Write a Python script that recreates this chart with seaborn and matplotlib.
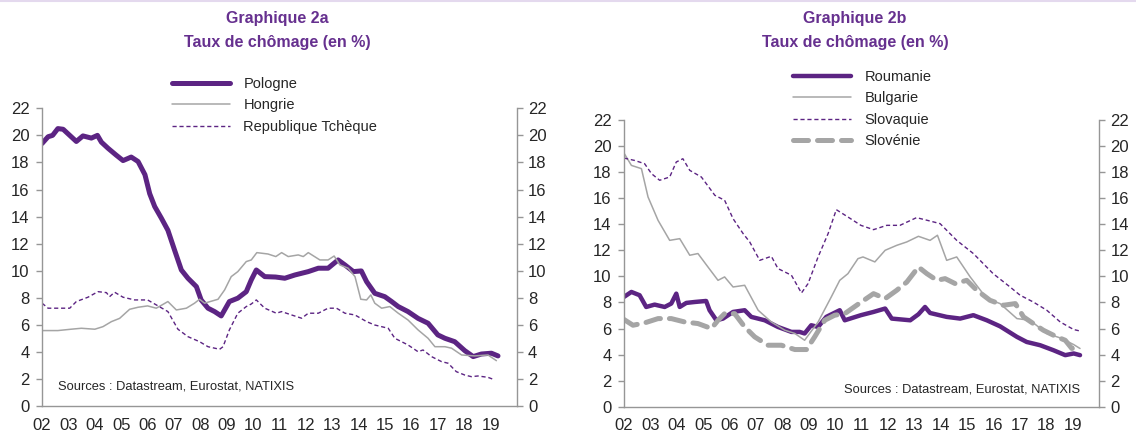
import matplotlib
matplotlib.use("Agg")
import matplotlib.pyplot as plt
import seaborn as sns
from matplotlib.lines import Line2D

# ---- data (decimal years, unemployment rate in %) ----
pol_x = [2002.0, 2002.23, 2002.4, 2002.6, 2002.8, 2003.05, 2003.3, 2003.55, 2003.87, 2004.1,
         2004.25, 2004.5, 2004.8, 2005.07, 2005.38, 2005.64, 2005.9, 2006.08, 2006.27, 2006.52,
         2006.77, 2007.02, 2007.28, 2007.53, 2007.85, 2008.03, 2008.29, 2008.54, 2008.79, 2009.1,
         2009.42, 2009.74, 2009.93, 2010.12, 2010.44, 2010.85, 2011.2, 2011.58, 2012.09, 2012.47,
         2012.84, 2013.22, 2013.48, 2013.8, 2014.1, 2014.3, 2014.61, 2014.99, 2015.25, 2015.5,
         2015.87, 2016.25, 2016.63, 2017.0, 2017.27, 2017.64, 2018.02, 2018.34, 2018.65, 2019.03,
         2019.28]
pol_y = [19.4, 19.9, 20.0, 20.5, 20.45, 20.0, 19.55, 19.96, 19.8, 20.0,
         19.5, 19.05, 18.56, 18.14, 18.4, 18.07, 17.1, 15.7, 14.75, 13.9,
         13.0, 11.55, 10.07, 9.46, 8.84, 7.86, 7.25, 7.0, 6.68, 7.74,
         7.99, 8.47, 9.34, 10.07, 9.58, 9.55, 9.46, 9.7, 9.95, 10.2,
         10.2, 10.81, 10.44, 9.95, 10.0, 9.21, 8.35, 8.1, 7.74, 7.37,
         7.0, 6.5, 6.14, 5.28, 5.03, 4.78, 4.12, 3.68, 3.87, 3.93,
         3.73]

hun_x = [2002.0, 2002.6, 2003.1, 2003.49, 2004.0, 2004.31, 2004.63, 2004.94, 2005.32, 2005.64,
         2006.0, 2006.33, 2006.77, 2007.09, 2007.47, 2007.78, 2007.97, 2008.16, 2008.67, 2008.92,
         2009.17, 2009.42, 2009.74, 2009.93, 2010.14, 2010.56, 2010.86, 2011.08, 2011.33, 2011.71,
         2011.9, 2012.09, 2012.53, 2012.84, 2013.07, 2013.29, 2013.6, 2013.86, 2014.08, 2014.3,
         2014.46, 2014.61, 2014.87, 2015.18, 2015.5, 2015.87, 2016.25, 2016.63, 2016.89, 2017.27,
         2017.52, 2017.9, 2018.4, 2018.9, 2019.22]
hun_y = [5.6, 5.6, 5.7, 5.77, 5.7, 5.89, 6.26, 6.5, 7.17, 7.32,
         7.42, 7.25, 7.74, 7.12, 7.25, 7.62, 7.91, 7.62, 7.91, 8.6,
         9.58, 9.95, 10.69, 10.81, 11.35, 11.25, 11.06, 11.35, 11.06, 11.18,
         11.06, 11.35, 10.81, 10.81, 11.1, 10.44, 10.2, 9.58, 7.91, 7.86,
         8.23, 7.62, 7.25, 7.37, 6.88, 6.38, 5.65, 5.03, 4.41, 4.41,
         4.3, 3.8, 3.73, 3.8, 3.38]

cze_x = [2002.0, 2002.23, 2002.73, 2003.05, 2003.3, 2003.74, 2004.12, 2004.44, 2004.56, 2004.75,
         2005.07, 2005.51, 2006.0, 2006.27, 2006.77, 2007.15, 2007.53, 2007.97, 2008.29, 2008.73,
         2008.86, 2009.1, 2009.42, 2009.74, 2009.93, 2010.12, 2010.44, 2010.88, 2011.08, 2011.46,
         2011.84, 2012.09, 2012.47, 2012.84, 2013.16, 2013.48, 2013.86, 2014.3, 2014.61, 2015.12,
         2015.37, 2015.87, 2016.25, 2016.44, 2016.76, 2017.14, 2017.39, 2017.7, 2018.02, 2018.27,
         2018.52, 2018.9, 2019.16]
cze_y = [7.62, 7.25, 7.25, 7.25, 7.74, 8.06, 8.47, 8.4, 8.1, 8.43,
         8.06, 7.86, 7.86, 7.56, 7.0, 5.7, 5.15, 4.78, 4.41, 4.22,
         4.41, 5.65, 6.88, 7.37, 7.56, 7.86, 7.25, 6.88, 7.0, 6.75,
         6.51, 6.88, 6.88, 7.25, 7.25, 6.88, 6.75, 6.26, 6.01, 5.77,
         5.03, 4.54, 4.04, 4.17, 3.68, 3.31, 3.19, 2.57, 2.32, 2.2,
         2.25, 2.15, 1.96]

rou_x = [2002.0, 2002.28, 2002.59, 2002.84, 2003.16, 2003.54, 2003.79, 2003.98, 2004.11, 2004.36,
         2004.67, 2005.11, 2005.24, 2005.5, 2005.75, 2006.13, 2006.57, 2006.82, 2007.33, 2007.83,
         2008.34, 2008.65, 2008.84, 2009.09, 2009.35, 2009.66, 2010.17, 2010.36, 2010.97, 2011.45,
         2011.89, 2012.14, 2012.84, 2013.15, 2013.4, 2013.59, 2014.22, 2014.73, 2015.23, 2015.74,
         2016.24, 2016.88, 2017.25, 2017.76, 2018.26, 2018.71, 2019.03, 2019.27]
rou_y = [8.42, 8.8, 8.55, 7.65, 7.83, 7.65, 7.91, 8.67, 7.65, 7.96,
         8.03, 8.11, 7.4, 6.63, 6.76, 7.27, 7.4, 6.89, 6.63, 6.12,
         5.74, 5.74, 5.62, 6.25, 6.12, 6.89, 7.4, 6.63, 7.02, 7.27,
         7.53, 6.76, 6.63, 7.09, 7.65, 7.19, 6.89, 6.76, 7.02, 6.63,
         6.17, 5.36, 4.97, 4.72, 4.34, 3.96, 4.09, 3.96]

bul_x = [2002.0, 2002.28, 2002.66, 2002.91, 2003.29, 2003.73, 2004.11, 2004.49, 2004.8, 2005.18,
         2005.56, 2005.81, 2006.13, 2006.57, 2007.08, 2007.58, 2008.09, 2008.47, 2008.84, 2009.35,
         2009.85, 2010.17, 2010.48, 2010.86, 2011.05, 2011.5, 2011.89, 2012.33, 2012.71, 2013.15,
         2013.59, 2013.87, 2014.22, 2014.6, 2015.11, 2015.74, 2016.24, 2016.88, 2017.38, 2018.01,
         2018.52, 2019.03, 2019.27]
bul_y = [19.43, 18.49, 18.24, 16.07, 14.28, 12.75, 12.88, 11.61, 11.74, 10.71,
         9.69, 9.95, 9.18, 9.31, 7.4, 6.5, 5.87, 5.62, 5.1, 6.5,
         8.42, 9.69, 10.2, 11.35, 11.48, 11.1, 11.99, 12.37, 12.63, 13.06,
         12.75, 13.14, 11.22, 11.48, 9.95, 8.29, 7.91, 6.76, 6.63, 5.62,
         5.28, 4.77, 4.47]

svk_x = [2002.0, 2002.4, 2002.78, 2003.04, 2003.35, 2003.73, 2003.98, 2004.23, 2004.49, 2004.93,
         2005.44, 2005.81, 2006.13, 2006.51, 2006.76, 2007.14, 2007.58, 2007.83, 2008.34, 2008.72,
         2008.97, 2009.35, 2009.73, 2010.04, 2010.48, 2010.97, 2011.45, 2011.95, 2012.45, 2013.08,
         2013.59, 2013.97, 2014.6, 2015.23, 2015.98, 2016.62, 2017.0, 2017.5, 2018.01, 2018.52,
         2019.03, 2019.27]
svk_y = [19.05, 18.87, 18.62, 17.86, 17.35, 17.6, 18.75, 19.0, 18.11, 17.6,
         16.2, 15.82, 14.41, 13.27, 12.63, 11.22, 11.53, 10.59, 10.08, 8.72,
         9.44, 11.48, 13.27, 15.1, 14.54, 13.9, 13.57, 13.9, 13.9, 14.49,
         14.23, 14.03, 12.75, 11.74, 10.2, 9.18, 8.55, 8.03, 7.4, 6.5,
         5.92, 5.81]

svn_x = [2002.0, 2002.34, 2002.78, 2003.29, 2003.79, 2004.3, 2004.8, 2005.31, 2005.56, 2005.81,
         2006.19, 2006.57, 2006.95, 2007.45, 2007.96, 2008.47, 2008.91, 2009.22, 2009.6, 2009.98,
         2010.36, 2010.9, 2011.45, 2011.89, 2012.33, 2012.71, 2013.15, 2013.47, 2013.85, 2014.16,
         2014.54, 2014.98, 2015.36, 2015.86, 2016.37, 2016.82, 2017.13, 2017.5, 2017.88, 2018.39,
         2018.71, 2018.96, 2019.2]
svn_y = [6.69, 6.25, 6.43, 6.76, 6.76, 6.5, 6.38, 6.0, 6.63, 7.14,
         7.14, 6.12, 5.36, 4.72, 4.72, 4.39, 4.39, 5.36, 6.63, 7.02,
         7.14, 7.91, 8.67, 8.29, 8.93, 9.56, 10.71, 10.2, 9.69, 9.82,
         9.44, 9.69, 8.93, 8.16, 7.78, 7.91, 6.89, 6.38, 5.87, 5.36,
         5.1, 4.47, 4.59]

years = list(range(2002, 2020))
year_labels = [f"{y % 100:02d}" for y in years]
y_ticks = list(range(0, 23, 2))

PURPLE = "#5C2483"
TITLE_PURPLE = "#66308F"
GREY = "#A5A5A5"
AXIS_GREY = "#969696"


def style_axes(ax):
    """Excel-like axes: grey left/bottom spines, twin axis on the right."""
    ax.set_xlim(2002, 2020)
    ax.set_ylim(0, 22)
    ax.set_xticks(years)
    ax.set_xticklabels(year_labels, fontsize=12)
    ax.set_yticks(y_ticks)
    ax.tick_params(axis="y", labelsize=12, length=4, width=1, color=AXIS_GREY, pad=5)
    ax.tick_params(axis="x", length=4, width=1, color=AXIS_GREY, pad=4)
    for side in ["top", "right"]:
        ax.spines[side].set_visible(False)
    for side in ["left", "bottom"]:
        ax.spines[side].set_color(AXIS_GREY)
        ax.spines[side].set_linewidth(1)
    ax.set_xlabel("")
    ax.set_ylabel("")
    ax.grid(False)

    ax2 = ax.twinx()
    ax2.set_ylim(0, 22)
    ax2.set_yticks(y_ticks)
    ax2.tick_params(axis="y", labelsize=12, length=4, width=1, color=AXIS_GREY, pad=4)
    for side in ["top", "left", "bottom"]:
        ax2.spines[side].set_visible(False)
    ax2.spines["right"].set_color(AXIS_GREY)
    ax2.spines["right"].set_linewidth(1)


sns.set_theme(style="white")
plt.rcParams["font.family"] = ["Liberation Sans", "DejaVu Sans"]

fig = plt.figure(figsize=(11.36, 4.36), dpi=100)
ax_a = fig.add_axes([0.0370, 0.0677, 0.4181, 0.684])
ax_b = fig.add_axes([0.5493, 0.0668, 0.4184, 0.659])

# ---- Graphique 2a ----
sns.lineplot(x=pol_x, y=pol_y, ax=ax_a, color=PURPLE, linewidth=3.6,
             solid_capstyle="round", label="Pologne", sort=False, estimator=None)
sns.lineplot(x=hun_x, y=hun_y, ax=ax_a, color=GREY, linewidth=1.1,
             label="Hongrie", sort=False, estimator=None)
sns.lineplot(x=cze_x, y=cze_y, ax=ax_a, color=PURPLE, linewidth=1.0,
             linestyle=(0, (3, 2)), label="Republique Tchèque", sort=False, estimator=None)
ax_a.legend(loc="upper left", bbox_to_anchor=(0.1514, 0.823), bbox_transform=fig.transFigure,
            frameon=False, fontsize=10.5, handlelength=4.0, handletextpad=0.9,
            labelspacing=0.5, borderpad=0, borderaxespad=0)
style_axes(ax_a)
ax_a.text(58 / 1136, 1 - 386 / 436, "Sources : Datastream, Eurostat, NATIXIS",
          transform=fig.transFigure, fontsize=9.3, va="center", ha="left")

# ---- Graphique 2b ----
sns.lineplot(x=rou_x, y=rou_y, ax=ax_b, color=PURPLE, linewidth=3.2,
             solid_capstyle="round", label="Roumanie", sort=False, estimator=None)
sns.lineplot(x=bul_x, y=bul_y, ax=ax_b, color=GREY, linewidth=1.1,
             label="Bulgarie", sort=False, estimator=None)
sns.lineplot(x=svk_x, y=svk_y, ax=ax_b, color=PURPLE, linewidth=1.0,
             linestyle=(0, (3, 2)), label="Slovaquie", sort=False, estimator=None)
sns.lineplot(x=svn_x, y=svn_y, ax=ax_b, color=GREY, linewidth=3.6,
             linestyle=(0, (3.0, 1.8)), dash_capstyle="round",
             label="Slovénie", sort=False, estimator=None)
ax_b.legend(loc="upper left", bbox_to_anchor=(0.698, 0.839), bbox_transform=fig.transFigure,
            frameon=False, fontsize=10.5, handlelength=4.0, handletextpad=0.9,
            labelspacing=0.5, borderpad=0, borderaxespad=0)
style_axes(ax_b)
ax_b.text(1080 / 1136, 1 - 389 / 436, "Sources : Datastream, Eurostat, NATIXIS",
          transform=fig.transFigure, fontsize=9.3, va="center", ha="right")

# ---- titles ----
for cx, tag in [(277, "2a"), (855, "2b")]:
    fig.text(cx / 1136, 1 - 19 / 436, f"Graphique {tag}", ha="center", va="center",
             fontsize=11.5, weight="bold", color=TITLE_PURPLE)
    fig.text(cx / 1136, 1 - 42 / 436, "Taux de chômage (en %)", ha="center", va="center",
             fontsize=11.5, weight="bold", color=TITLE_PURPLE)

# thin lavender rule at the top of the page
fig.add_artist(Line2D([0, 1], [0.997, 0.997], transform=fig.transFigure,
                      color="#E4D9EE", linewidth=1.5))

fig.savefig("out.png", dpi=100)
